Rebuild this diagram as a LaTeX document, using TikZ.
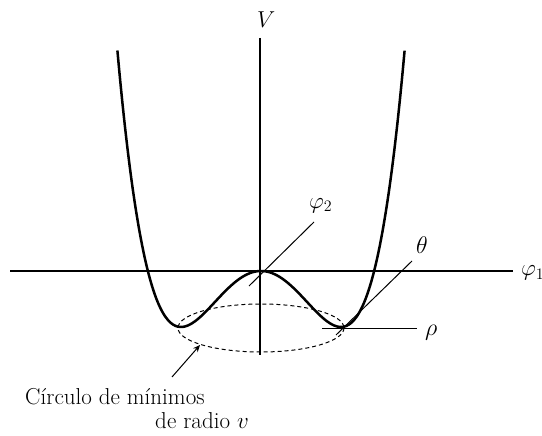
\documentclass[tikz,border=0pt]{standalone}
\usetikzlibrary{arrows.meta}
\begin{document}
\begin{tikzpicture}[x=1pt,y=-1pt,
  axis/.style={line width=1.4pt},
  thinline/.style={line width=1pt},
  curve/.style={line width=2.5pt},
  lbl/.style={font=\huge, scale=1.11, inner sep=0pt},
  sml/.style={font=\huge, scale=1.16, inner sep=0pt}]
\useasboundingbox (0,0) rectangle (542,436);
% axes
\coordinate (vtop) at (260,38);
\coordinate (vbot) at (260,355);
\coordinate (hl) at (10,271);
\coordinate (hr) at (513,271);
\draw[axis] (vtop) -- (vbot);
\draw[axis] (hl) -- (hr);
\node[lbl, anchor=base west] (V) at (257,28) {$V$};
\node[lbl, anchor=base west] (phi1) at (521,276) {$\varphi_1$};
% dashed ellipse
\draw[thinline, dash pattern=on 4pt off 3pt] (261,328) ellipse [x radius=83, y radius=24];
% mexican hat
\draw[curve, smooth, samples=120, domain=-1.795:1.795, variable=\u]
  plot ({261+80*\u}, {271-56*((\u*\u-1)*(\u*\u-1)-1)});
% phi2 line
\coordinate (p2a) at (249,286);
\coordinate (p2b) at (314,222);
\draw[thinline] (p2a) -- (p2b);
\node[lbl, anchor=base west] (phi2) at (309,208) {$\varphi_2$};
% theta line
\coordinate (tha) at (336,335);
\coordinate (thb) at (412,261);
\draw[thinline] (tha) -- (thb);
\node[sml, anchor=base west] (theta) at (416,254) {$\theta$};
% rho line
\coordinate (rha) at (322,328);
\coordinate (rhb) at (417,328);
\draw[thinline] (rha) -- (rhb);
\node[sml, anchor=base west] (rho) at (425,335) {$\rho$};
% arrow
\coordinate (arA) at (172,377);
\coordinate (arB) at (200,345);
\draw[thinline, -{Stealth[length=7pt,width=6pt]}] (arA) -- (arB);
\node[lbl, anchor=base west] (t1) at (25,404) {C\'irculo de m\'inimos};
\node[lbl, anchor=base east] (t2) at (249,428) {de radio $v$};
\end{tikzpicture}
\end{document}
